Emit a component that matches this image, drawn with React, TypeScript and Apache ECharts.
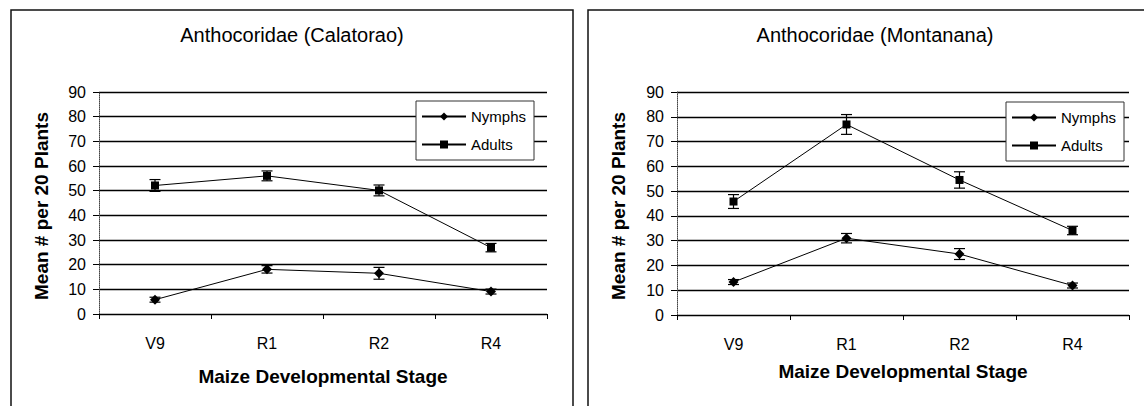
import React, { useEffect, useRef } from "react";
import * as echarts from "echarts";

const categories = ["V9", "R1", "R2", "R4"];
const calNymphs = [5.8, 18.1, 16.5, 9.1];
const calNymphsErr = [1, 1.5, 2.4, 1];
const calAdults = [52.1, 56, 50.1, 26.9];
const calAdultsErr = [2.4, 2, 2.2, 1.7];
const monNymphs = [13.3, 31, 24.6, 11.9];
const monNymphsErr = [1, 1.9, 2.2, 1];
const monAdults = [45.8, 76.9, 54.5, 34.1];
const monAdultsErr = [2.8, 4, 3.3, 1.7];
const yMin = 0;
const yMax = 90;
const yStep = 10;
const titles = ["Anthocoridae (Calatorao)", "Anthocoridae (Montanana)"];
const yTitle = "Mean # per 20 Plants";
const xTitle = "Maize Developmental Stage";

const FONT = "'Liberation Sans', Arial, sans-serif";

function errSeries(idx: number, values: number[], errs: number[]) {
  return {
    type: "custom",
    name: "err" + idx,
    xAxisIndex: idx,
    yAxisIndex: idx,
    z: 5,
    silent: true,
    data: values.map((v, i) => [i, v, errs[i]]),
    encode: { x: 0, y: 1 },
    renderItem: (params: any, api: any) => {
      const x = api.value(0);
      const y = api.value(1);
      const e = api.value(2);
      const hi = api.coord([x, y + e]);
      const lo = api.coord([x, y - e]);
      const w = 5.5;
      const st = { stroke: "#000", lineWidth: 1.2 };
      return {
        type: "group",
        children: [
          { type: "line", shape: { x1: hi[0], y1: hi[1], x2: lo[0], y2: lo[1] }, style: st },
          { type: "line", shape: { x1: hi[0] - w, y1: hi[1], x2: hi[0] + w, y2: hi[1] }, style: st },
          { type: "line", shape: { x1: lo[0] - w, y1: lo[1], x2: lo[0] + w, y2: lo[1] }, style: st },
        ],
      };
    },
  };
}

function lineSeries(idx: number, name: string, values: number[], symbol: string, size: number) {
  return {
    type: "line",
    name,
    xAxisIndex: idx,
    yAxisIndex: idx,
    data: values,
    symbol,
    symbolSize: size,
    itemStyle: { color: "#000" },
    lineStyle: { color: "#000", width: 1 },
    z: 4,
  };
}

function xAxisDef(idx: number) {
  return {
    type: "category",
    gridIndex: idx,
    data: categories,
    boundaryGap: true,
    axisLine: { show: true, lineStyle: { color: "#000", width: 1 } },
    axisTick: { show: true, length: 5, lineStyle: { color: "#000" } },
    axisLabel: { color: "#000", fontSize: 16, fontFamily: FONT, margin: 21 },
    splitLine: { show: false },
  };
}

function yAxisDef(idx: number) {
  return {
    type: "value",
    gridIndex: idx,
    min: yMin,
    max: yMax,
    interval: yStep,
    axisLine: { show: true, lineStyle: { color: "#444", width: 1, type: "dotted" } },
    axisTick: { show: true, length: 6, lineStyle: { color: "#000" } },
    axisLabel: { color: "#000", fontSize: 16, fontFamily: FONT, margin: 13 },
    splitLine: { show: true, lineStyle: { color: "#000", width: 1.3 } },
  };
}

function legendDef(left: number, top: number) {
  return {
    orient: "vertical",
    left,
    top,
    data: [{ name: "Nymphs" }, { name: "Adults" }],
    itemWidth: 44,
    itemHeight: 10,
    itemGap: 13,
    padding: [8, 8, 8, 5],
    borderColor: "#333",
    borderWidth: 1,
    backgroundColor: "#fff",
    textStyle: { color: "#000", fontSize: 15, fontFamily: FONT },
  };
}

function textEl(text: string, x: number, y: number, size: number, bold: boolean, rotation = 0) {
  return {
    type: "text",
    x,
    y,
    rotation,
    style: {
      text,
      align: "center",
      verticalAlign: "middle",
      fontSize: size,
      fontWeight: bold ? "bold" : "normal",
      fontFamily: FONT,
      fill: "#000",
    },
  };
}

export default function App() {
  const ref = useRef<HTMLDivElement>(null);
  useEffect(() => {
    document.body.style.margin = "0";
    if (!ref.current) return;
    const chart = echarts.init(ref.current, undefined, { renderer: "svg" });
    chart.setOption({
      animation: false,
      backgroundColor: "#fff",
      grid: [
        { left: 99, top: 92, width: 448, height: 222 },
        { left: 677, top: 92, width: 452, height: 223 },
      ],
      xAxis: [xAxisDef(0), xAxisDef(1)],
      yAxis: [yAxisDef(0), yAxisDef(1)],
      legend: [legendDef(416, 101), legendDef(1006, 102)],
      series: [
        lineSeries(0, "Nymphs", calNymphs, "diamond", 10),
        lineSeries(0, "Adults", calAdults, "rect", 8),
        errSeries(0, calNymphs, calNymphsErr),
        errSeries(0, calAdults, calAdultsErr),
        lineSeries(1, "Nymphs", monNymphs, "diamond", 10),
        lineSeries(1, "Adults", monAdults, "rect", 8),
        errSeries(1, monNymphs, monNymphsErr),
        errSeries(1, monAdults, monAdultsErr),
      ],
      graphic: [
        { type: "rect", shape: { x: 11, y: 10, width: 562, height: 420 }, style: { fill: "none", stroke: "#111", lineWidth: 1.5 } },
        { type: "rect", shape: { x: 588, y: 10, width: 600, height: 420 }, style: { fill: "none", stroke: "#111", lineWidth: 1.5 } },
        textEl(titles[0], 292, 35, 20, false),
        textEl(titles[1], 875, 35, 20, false),
        textEl(yTitle, 41, 206, 19, true, Math.PI / 2),
        textEl(yTitle, 618, 206, 19, true, Math.PI / 2),
        textEl(xTitle, 323, 376, 19, true),
        textEl(xTitle, 903, 371, 19, true),
      ],
    });
    return () => chart.dispose();
  }, []);
  return <div ref={ref} style={{ width: 1144, height: 406 }} />;
}
